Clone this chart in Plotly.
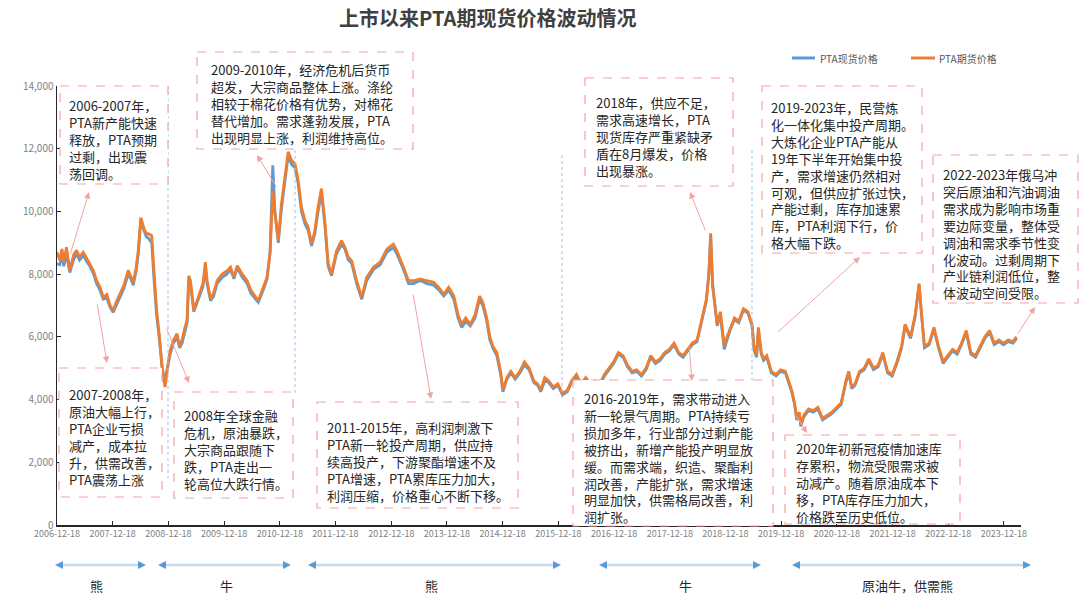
import plotly.graph_objects as go

# ---------------- data ----------------
dates = [
    "2006-12-18", "2007-01-05", "2007-01-20", "2007-02-01", "2007-02-18", "2007-03-12", "2007-04-05", "2007-04-25",
    "2007-05-15", "2007-06-08", "2007-07-01", "2007-07-22", "2007-08-15", "2007-09-03", "2007-09-25", "2007-10-17",
    "2007-11-10", "2007-12-01", "2007-12-21", "2008-01-10", "2008-02-03", "2008-03-01", "2008-03-29", "2008-04-15",
    "2008-05-01", "2008-05-20", "2008-06-03", "2008-06-20", "2008-07-10", "2008-07-25", "2008-08-08", "2008-08-30",
    "2008-09-13", "2008-10-01", "2008-10-20", "2008-11-05", "2008-11-25", "2008-12-10", "2008-12-29",
    "2009-01-20", "2009-02-12", "2009-03-01", "2009-03-17", "2009-04-05", "2009-04-19", "2009-04-30", "2009-05-11",
    "2009-06-02", "2009-06-25", "2009-07-15", "2009-08-01", "2009-08-17", "2009-08-28", "2009-09-20", "2009-10-10",
    "2009-11-02", "2009-12-05",
    "2010-01-05", "2010-01-29", "2010-02-20", "2010-03-14", "2010-04-16", "2010-05-18", "2010-06-10", "2010-06-28",
    "2010-07-30", "2010-09-01", "2010-09-25", "2010-10-15", "2010-11-02", "2010-11-16", "2010-12-08", "2010-12-29",
    "2011-01-20", "2011-02-11", "2011-03-05", "2011-03-27", "2011-04-17", "2011-05-09", "2011-06-01", "2011-06-22",
    "2011-07-14", "2011-08-05", "2011-08-26", "2011-09-17", "2011-10-09", "2011-10-31", "2011-11-22", "2011-12-25",
    "2012-01-27", "2012-02-18", "2012-03-11", "2012-04-02", "2012-05-05", "2012-06-07", "2012-07-10", "2012-08-23",
    "2012-10-06", "2012-11-19",
    "2013-01-01", "2013-01-23", "2013-03-08", "2013-04-10", "2013-05-13", "2013-06-26", "2013-08-09", "2013-09-22",
    "2013-10-25", "2013-11-27", "2013-12-29",
    "2014-02-01", "2014-03-01", "2014-03-25", "2014-04-20", "2014-05-20", "2014-06-20", "2014-07-20", "2014-08-10",
    "2014-09-05", "2014-09-25", "2014-10-15", "2014-11-10", "2014-12-05", "2014-12-20",
    "2015-01-15", "2015-02-10", "2015-03-10", "2015-04-10", "2015-05-10", "2015-06-10", "2015-07-10", "2015-08-05",
    "2015-08-25", "2015-09-20", "2015-10-15", "2015-11-15", "2015-12-15",
    "2016-01-15", "2016-02-15", "2016-03-15", "2016-04-15", "2016-05-15", "2016-06-15", "2016-07-15", "2016-08-15",
    "2016-09-15", "2016-10-15", "2016-11-15", "2016-12-15",
    "2017-01-15", "2017-02-15", "2017-03-15", "2017-04-15", "2017-05-15", "2017-06-15", "2017-07-15", "2017-08-15",
    "2017-09-15", "2017-10-15", "2017-11-15", "2017-12-15",
    "2018-01-15", "2018-02-15", "2018-03-15", "2018-04-15", "2018-05-15", "2018-06-15", "2018-07-15", "2018-08-15",
    "2018-09-01", "2018-09-12", "2018-09-25", "2018-10-10", "2018-10-25", "2018-11-15", "2018-12-10", "2018-12-28",
    "2019-01-20", "2019-02-15", "2019-03-15", "2019-04-15", "2019-05-15", "2019-06-10", "2019-06-25", "2019-07-10",
    "2019-07-22", "2019-08-10", "2019-08-25", "2019-09-15", "2019-10-15", "2019-11-15", "2019-12-15",
    "2020-01-15", "2020-02-05", "2020-02-25", "2020-03-15", "2020-03-30", "2020-04-15", "2020-04-25", "2020-05-15",
    "2020-06-15", "2020-07-15", "2020-08-15", "2020-09-15", "2020-10-15", "2020-11-15", "2020-12-15",
    "2021-01-15", "2021-02-15", "2021-03-05", "2021-03-25", "2021-04-15", "2021-05-15", "2021-06-15", "2021-07-15",
    "2021-08-15", "2021-09-15", "2021-10-15", "2021-11-15", "2021-12-15",
    "2022-01-15", "2022-02-15", "2022-03-10", "2022-04-15", "2022-05-15", "2022-06-10", "2022-06-25", "2022-07-15",
    "2022-08-15", "2022-09-15", "2022-10-15", "2022-11-15", "2022-12-15",
    "2023-01-15", "2023-02-15", "2023-03-15", "2023-04-15", "2023-05-15", "2023-06-15", "2023-07-15", "2023-08-15",
    "2023-09-15", "2023-10-15", "2023-11-15", "2023-12-15",
    "2024-01-15", "2024-02-15", "2024-03-10",
]

futures = [
    8700, 8450, 8800, 8380, 8860, 8120, 8600, 8760, 8550, 8700, 8500, 8330, 8100, 7800, 7600, 7270,
    7350, 7000, 6840, 7100, 7370, 7650, 8120, 7900, 7740, 8200, 8760, 9800, 9450, 9300, 9290, 9230,
    8120, 6840, 6000, 5045, 4400, 5000, 5580,
    5900, 6100, 5700, 5900, 6300, 6530, 7950, 7790, 6850, 7200, 7500, 7700, 8380, 7790, 7200, 7400, 7790, 8000,
    8100, 8220, 7900, 8270, 8000, 7790, 7500, 7360, 7150, 7580, 7900, 8650, 10670, 9930, 9070, 10250,
    11000, 11900, 11630, 11530, 11000, 10140, 9710, 9500, 8970, 9390, 10140, 10730, 9710, 8330, 8000, 8750,
    9070, 8860, 8540, 8430, 7790, 7260, 7900, 8220, 8380, 8800,
    8960, 8750, 8220, 7790, 7790, 7850, 7790, 7740, 7580, 7360, 7580,
    7300, 6700, 6400, 6600, 6400, 6700, 7300, 7100, 6600, 6000, 5700, 5500, 4900, 4300,
    4700, 4900, 4700, 4900, 5200, 5000, 4600, 4500, 4300, 4700, 4600, 4400, 4500,
    4200, 4300, 4600, 4800, 4500, 4700, 4500, 4600, 4500, 4800, 5000, 5200,
    5500, 5400, 5100, 4900, 4950, 4800, 5000, 5400, 5200, 5300, 5500, 5600,
    5800, 5500, 5400, 5600, 5800, 5900, 6500, 7200, 8000, 9300, 7600, 6900, 6400, 6800, 5700, 6000,
    6300, 6600, 6500, 6900, 6800, 6400, 5600, 5400, 6300, 5500, 5300, 5400, 4900, 4800, 4950,
    4900, 4600, 4300, 3900, 3400, 3600, 3200, 3500, 3700, 3650, 3750, 3400, 3500, 3600, 3750,
    3900, 4600, 4900, 4400, 4500, 4900, 5000, 5300, 5000, 5100, 5500, 4900, 4800,
    5200, 5700, 6400, 6000, 6700, 7700, 6800, 5700, 5800, 6300, 5700, 5200, 5400,
    5600, 5500, 5800, 6200, 5500, 5400, 5700, 6000, 6200, 5800, 5900, 5800,
    5900, 5850, 6000,
]

spot = [
    8330, 8300, 8600, 8250, 8650, 8050, 8450, 8650, 8450, 8600, 8400, 8250, 8000, 7700, 7500, 7200,
    7250, 6950, 6780, 7000, 7300, 7550, 8000, 7850, 7650, 8100, 8650, 9750, 9400, 9200, 9150, 9000,
    7900, 6700, 5900, 5100, 4500, 5000, 5450,
    5800, 6000, 5650, 5800, 6200, 6450, 7800, 7700, 6800, 7100, 7400, 7600, 8250, 7700, 7150, 7300, 7700, 7900,
    8000, 8150, 7850, 8200, 7900, 7700, 7400, 7300, 7100, 7500, 7850, 8700, 11470, 10000, 9000, 10100,
    10900, 11800, 11500, 11400, 10900, 10000, 9600, 9400, 8900, 9300, 10000, 10600, 9600, 8250, 7950, 8650,
    8950, 8800, 8450, 8350, 7700, 7200, 7800, 8150, 8300, 8700,
    8850, 8650, 8150, 7700, 7700, 7800, 7700, 7650, 7500, 7300, 7500,
    7200, 6600, 6300, 6500, 6350, 6600, 7200, 7000, 6500, 5900, 5650, 5400, 4800, 4250,
    4650, 4850, 4650, 4850, 5100, 4950, 4550, 4450, 4250, 4600, 4550, 4350, 4450,
    4150, 4250, 4550, 4700, 4450, 4650, 4450, 4550, 4450, 4750, 4950, 5150,
    5450, 5350, 5050, 4850, 4900, 4750, 4950, 5350, 5150, 5250, 5450, 5550,
    5750, 5450, 5350, 5550, 5750, 5850, 6450, 7150, 8100, 9250, 7700, 6950, 6350, 6700, 5600, 5900,
    6250, 6550, 6450, 6850, 6750, 6350, 5550, 5350, 6200, 5450, 5250, 5350, 4850, 4750, 4900,
    4850, 4550, 4250, 3850, 3350, 3550, 3150, 3450, 3650, 3600, 3700, 3350, 3450, 3550, 3700,
    3850, 4550, 4850, 4350, 4450, 4850, 4950, 5250, 4950, 5050, 5450, 4850, 4750,
    5150, 5650, 6350, 5950, 6650, 7650, 6750, 5650, 5750, 6250, 5650, 5150, 5350,
    5550, 5450, 5750, 6150, 5450, 5350, 5650, 5950, 6150, 5750, 5850, 5750,
    5850, 5800, 5950,
]

assert len(dates) == len(futures) == len(spot), (len(dates), len(futures), len(spot))

x_ticks = ["2006-12-18", "2007-12-18", "2008-12-18", "2009-12-18", "2010-12-18", "2011-12-18",
           "2012-12-18", "2013-12-18", "2014-12-18", "2015-12-18", "2016-12-18", "2017-12-18",
           "2018-12-18", "2019-12-18", "2020-12-18", "2021-12-18", "2022-12-18", "2023-12-18"]
y_ticks = [0, 2000, 4000, 6000, 8000, 10000, 12000, 14000]
y_tick_text = ["0", "2,000", "4,000", "6,000", "8,000", "10,000", "12,000", "14,000"]

series_names = ["PTA现货价格", "PTA期货价格"]
title_text = "上市以来PTA期现货价格波动情况"

notes = [
    "2006-2007年，<br>PTA新产能快速<br>释放，PTA预期<br>过剩，出现震<br>荡回调。",
    "2007-2008年，<br>原油大幅上行，<br>PTA企业亏损<br>减产，成本拉<br>升，供需改善，<br>PTA震荡上涨",
    "2008年全球金融<br>危机，原油暴跌，<br>大宗商品跟随下<br>跌，PTA走出一<br>轮高位大跌行情。",
    "2009-2010年，经济危机后货币<br>超发，大宗商品整体上涨。涤纶<br>相较于棉花价格有优势，对棉花<br>替代增加。需求蓬勃发展，PTA<br>出现明显上涨，利润维持高位。",
    "2011-2015年，高利润刺激下<br>PTA新一轮投产周期，供应持<br>续高投产，下游聚酯增速不及<br>PTA增速，PTA累库压力加大，<br>利润压缩，价格重心不断下移。",
    "2018年，供应不足，<br>需求高速增长，PTA<br>现货库存严重紧缺矛<br>盾在8月爆发，价格<br>出现暴涨。",
    "2016-2019年，需求带动进入<br>新一轮景气周期。PTA持续亏<br>损加多年，行业部分过剩产能<br>被挤出，新增产能投产明显放<br>缓。而需求端，织造、聚酯利<br>润改善，产能扩张，需求增速<br>明显加快，供需格局改善，利<br>润扩张。",
    "2019-2023年，民营炼<br>化一体化集中投产周期。<br>大炼化企业PTA产能从<br>19年下半年开始集中投<br>产，需求增速仍然相对<br>可观，但供应扩张过快，<br>产能过剩，库存加速累<br>库，PTA利润下行，价<br>格大幅下跌。",
    "2022-2023年俄乌冲<br>突后原油和汽油调油<br>需求成为影响市场重<br>要边际变量，整体受<br>调油和需求季节性变<br>化波动。过剩周期下<br>产业链利润低位，整<br>体波动空间受限。",
    "2020年初新冠疫情加速库<br>存累积，物流受限需求被<br>动减产。随着原油成本下<br>移，PTA库存压力加大，<br>价格跌至历史低位。",
]

period_labels = ["熊", "牛", "熊", "牛", "原油牛，供需熊"]

# ---------------- layout geometry (pixels) ----------------
W, H = 1080, 601
L, R, T, B = 57, 1021, 86, 525


def px(X):
    return (X - L) / (R - L)


def py(Y):
    return (B - Y) / (B - T)


FONT = "Noto Sans CJK SC, Noto Sans, sans-serif"
PINK = "#F4A3A3"

# boxes: (x0, y0, x1, y1, text-left, first-line-center)
boxes = [
    (60, 86, 168, 184, 68, 103),
    (59, 368, 162, 497, 68, 393),
    (174, 392, 293, 498, 183, 413),
    (197, 52, 413, 149, 210, 68),
    (317, 402, 518, 508, 326, 425),
    (585, 78, 733, 186, 595, 100),
    (573, 380, 773, 526, 583, 397),
    (762, 86, 922, 253, 770, 105),
    (933, 155, 1078, 303, 942, 172),
    (785, 435, 960, 524, 795, 446),
]

# pink arrows: (tail x, tail y, head x, head y)
pink_arrows = [
    (70, 255, 89, 192),
    (97, 303, 107, 363),
    (166, 327, 189, 383),
    (277, 188, 257, 155),
    (413, 293, 431, 399),
    (706, 232, 690, 192),
    (689, 345, 692, 381),
    (777, 333, 860, 257),
    (1017, 335, 1035, 307),
    (795, 414, 807, 433),
]

# bottom period arrows (x0, x1, label x)
periods = [(55, 146, 96), (158, 291, 226), (308, 561, 431), (599, 761, 685), (792, 1031, 907)]

# vertical dotted separators (x, y top, y bottom)
separators = [(168, 86, 478), (295, 150, 395), (562, 155, 400), (752, 150, 525)]

fig = go.Figure()
fig.add_trace(go.Scatter(x=dates, y=spot, mode="lines", name=series_names[0],
                         line=dict(color="#5B9BD5", width=2.8), showlegend=False))
fig.add_trace(go.Scatter(x=dates, y=futures, mode="lines", name=series_names[1],
                         line=dict(color="#ED7D31", width=2.8), showlegend=False))

shapes = []
annotations = []

for (xs, y0, y1) in separators:
    shapes.append(dict(type="line", xref="paper", yref="paper", x0=px(xs), x1=px(xs), y0=py(y0), y1=py(y1),
                       line=dict(color="#9DC3E6", width=1, dash="dot"), layer="above"))

for (x0, y0, x1, y1, tx, fy), txt in zip(boxes, notes):
    shapes.append(dict(type="rect", xref="paper", yref="paper", x0=px(x0), x1=px(x1), y0=py(y0), y1=py(y1),
                       line=dict(color=PINK, width=1.2, dash="dash"), fillcolor="white", layer="above"))
    annotations.append(dict(xref="paper", yref="paper", x=px(tx), y=py(fy - 8.5), xanchor="left", yanchor="top",
                            text=txt, showarrow=False, align="left", borderpad=0,
                            font=dict(family=FONT, size=13, color="#262626")))

for (tx, ty, hx, hy) in pink_arrows:
    annotations.append(dict(xref="paper", yref="paper", x=px(hx), y=py(hy), ax=tx - hx, ay=ty - hy,
                            axref="pixel", ayref="pixel", text="", showarrow=True, arrowhead=2,
                            arrowsize=1.3, arrowwidth=1, arrowcolor=PINK, standoff=0, startstandoff=0))

for (x0, x1, lx), lab in zip(periods, period_labels):
    shapes.append(dict(type="line", xref="paper", yref="paper", x0=px(x0 + 4), x1=px(x1 - 4), y0=py(565), y1=py(565),
                       line=dict(color="#C6DBF0", width=2.5)))
    annotations.append(dict(xref="paper", yref="paper", x=px(x0), y=py(565), ax=7, ay=0, axref="pixel",
                            ayref="pixel", text="", showarrow=True, arrowhead=2, arrowsize=1.0,
                            arrowwidth=1.6, arrowcolor="#5B9BD5", standoff=0))
    annotations.append(dict(xref="paper", yref="paper", x=px(x1), y=py(565), ax=-7, ay=0, axref="pixel",
                            ayref="pixel", text="", showarrow=True, arrowhead=2, arrowsize=1.0,
                            arrowwidth=1.6, arrowcolor="#5B9BD5", standoff=0))
    annotations.append(dict(xref="paper", yref="paper", x=px(lx), y=py(585), xanchor="center", yanchor="middle",
                            text=lab, showarrow=False, font=dict(family=FONT, size=13, color="#262626")))

# custom legend
legend_items = [(792, 815, 818, "#5B9BD5", series_names[0]), (911, 935, 937, "#ED7D31", series_names[1])]
for (l0, l1, tx, col, name) in legend_items:
    shapes.append(dict(type="line", xref="paper", yref="paper", x0=px(l0), x1=px(l1), y0=py(58), y1=py(58),
                       line=dict(color=col, width=3)))
    annotations.append(dict(xref="paper", yref="paper", x=px(tx), y=py(58), xanchor="left", yanchor="middle",
                            text=name, showarrow=False, font=dict(family=FONT, size=10, color="#595959")))

# title
annotations.append(dict(xref="paper", yref="paper", x=px(487), y=py(17), xanchor="center", yanchor="middle",
                        text="<b>" + title_text + "</b>", showarrow=False,
                        font=dict(family=FONT, size=20, color="#404040")))

fig.update_layout(
    width=W, height=H,
    margin=dict(l=L, r=W - R, t=T, b=H - B, pad=0),
    paper_bgcolor="white", plot_bgcolor="white",
    shapes=shapes, annotations=annotations,
    showlegend=False, hovermode=False,
    xaxis=dict(type="date", range=["2006-12-18", "2024-04-08"], tickvals=x_ticks, ticktext=x_ticks,
               ticks="inside", ticklen=4, tickcolor="#262626", showline=True, linecolor="#262626", linewidth=1.5,
               showgrid=False, zeroline=False, tickangle=0,
               tickfont=dict(family=FONT, size=9, color="#7F7F7F")),
    yaxis=dict(range=[0, 14000], tickvals=y_ticks, ticktext=y_tick_text, ticks="inside", ticklen=4,
               tickcolor="#262626", showline=True, linecolor="#262626", linewidth=1.5, showgrid=False,
               zeroline=False, tickfont=dict(family=FONT, size=10, color="#7F7F7F")),
)

fig.write_html("out.html", config={"displayModeBar": False, "staticPlot": True},
               post_script="document.body.style.margin='0';document.body.style.overflow='hidden';")
